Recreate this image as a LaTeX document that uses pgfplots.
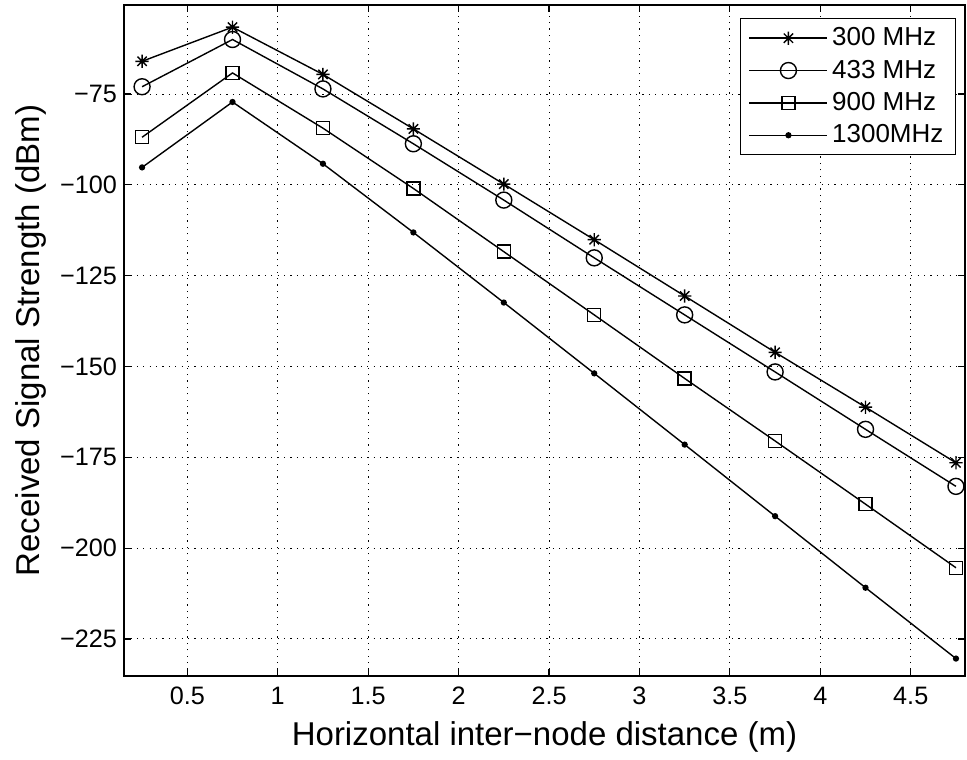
\documentclass[border=0pt]{standalone}
\usepackage{fontspec}
\setmainfont{Liberation Sans}
\usepackage{pgfplots}
\pgfplotsset{compat=1.18}
\pgfdeclareplotmark{masterisk}{%
 \pgfpathmoveto{\pgfqpoint{-\pgfplotmarksize}{0pt}}\pgfpathlineto{\pgfqpoint{\pgfplotmarksize}{0pt}}%
 \pgfpathmoveto{\pgfqpoint{0pt}{-\pgfplotmarksize}}\pgfpathlineto{\pgfqpoint{0pt}{\pgfplotmarksize}}%
 \pgfpathmoveto{\pgfqpoint{-.707\pgfplotmarksize}{-.707\pgfplotmarksize}}\pgfpathlineto{\pgfqpoint{.707\pgfplotmarksize}{.707\pgfplotmarksize}}%
 \pgfpathmoveto{\pgfqpoint{-.707\pgfplotmarksize}{.707\pgfplotmarksize}}\pgfpathlineto{\pgfqpoint{.707\pgfplotmarksize}{-.707\pgfplotmarksize}}%
 \pgfusepathqstroke}
\begin{document}
\begin{tikzpicture}
\begin{axis}[
  at={(0pt,0pt)}, anchor=south west,
  scale only axis, width=420.5pt, height=335.5pt,
  xmin=0.15, xmax=4.8, ymin=-235.2, ymax=-50.5,
  xtick={0.5,1,...,4.5},
  xticklabels={0.5,1,1.5,2,2.5,3,3.5,4,4.5},
  ytick={-225,-200,-175,-150,-125,-100,-75},
  yticklabels={−225,−200,−175,−150,−125,−100,−75},
  tick align=inside, major tick length=3.5pt,
  tick style={black, line width=0.6pt},
  axis line style={line width=0.9pt},
  grid=major,
  major grid style={black, line width=0.5pt, dash pattern=on 0.6pt off 2.6pt},
  tick label style={font=\fontsize{12.6}{14}\selectfont},
  xticklabel style={yshift=-2pt},
  label style={font=\fontsize{16.5}{19}\selectfont},
  xlabel style={yshift=-1.5pt},
  xlabel={Horizontal inter−node distance (m)},
  ylabel={Received Signal Strength (dBm)},
  legend style={at={(rel axis cs:0.9893,0.9806)}, anchor=north east,
    font=\fontsize{13}{15}\selectfont, draw=black, line width=0.6pt,
    row sep=1.6pt, inner xsep=4pt, inner ysep=2.5pt, cells={anchor=west}},
  legend image code/.code={\draw[mark repeat=2,mark phase=2] plot coordinates {(0pt,0pt)(19.5pt,0pt)(39pt,0pt)};},
  every axis plot/.append style={black, line width=0.7pt},
]
\addplot[mark=masterisk, mark size=3.3pt, mark options={solid}] coordinates {
(0.25,-66.0) (0.75,-56.6) (1.25,-69.6) (1.75,-84.6) (2.25,-99.8) (2.75,-115.1) (3.25,-130.6) (3.75,-146.1) (4.25,-161.2) (4.75,-176.5)};
\addlegendentry{300 MHz}
\addplot[mark=o, mark size=4pt] coordinates {
(0.25,-73.0) (0.75,-60.0) (1.25,-73.6) (1.75,-88.7) (2.25,-104.2) (2.75,-120.1) (3.25,-135.8) (3.75,-151.5) (4.25,-167.3) (4.75,-183.0)};
\addlegendentry{433 MHz}
\addplot[mark=square, mark size=3.25pt] coordinates {
(0.25,-86.9) (0.75,-69.2) (1.25,-84.4) (1.75,-101.0) (2.25,-118.4) (2.75,-135.8) (3.25,-153.3) (3.75,-170.5) (4.25,-187.9) (4.75,-205.4)};
\addlegendentry{900 MHz}
\addplot[mark=*, mark size=1.2pt] coordinates {
(0.25,-95.2) (0.75,-77.2) (1.25,-94.2) (1.75,-113.1) (2.25,-132.4) (2.75,-151.9) (3.25,-171.5) (3.75,-191.2) (4.25,-210.9) (4.75,-230.4)};
\addlegendentry{1300MHz}
\end{axis}
\path (-62pt,-41pt) rectangle (421.5pt,338pt);
\end{tikzpicture}
\end{document}
